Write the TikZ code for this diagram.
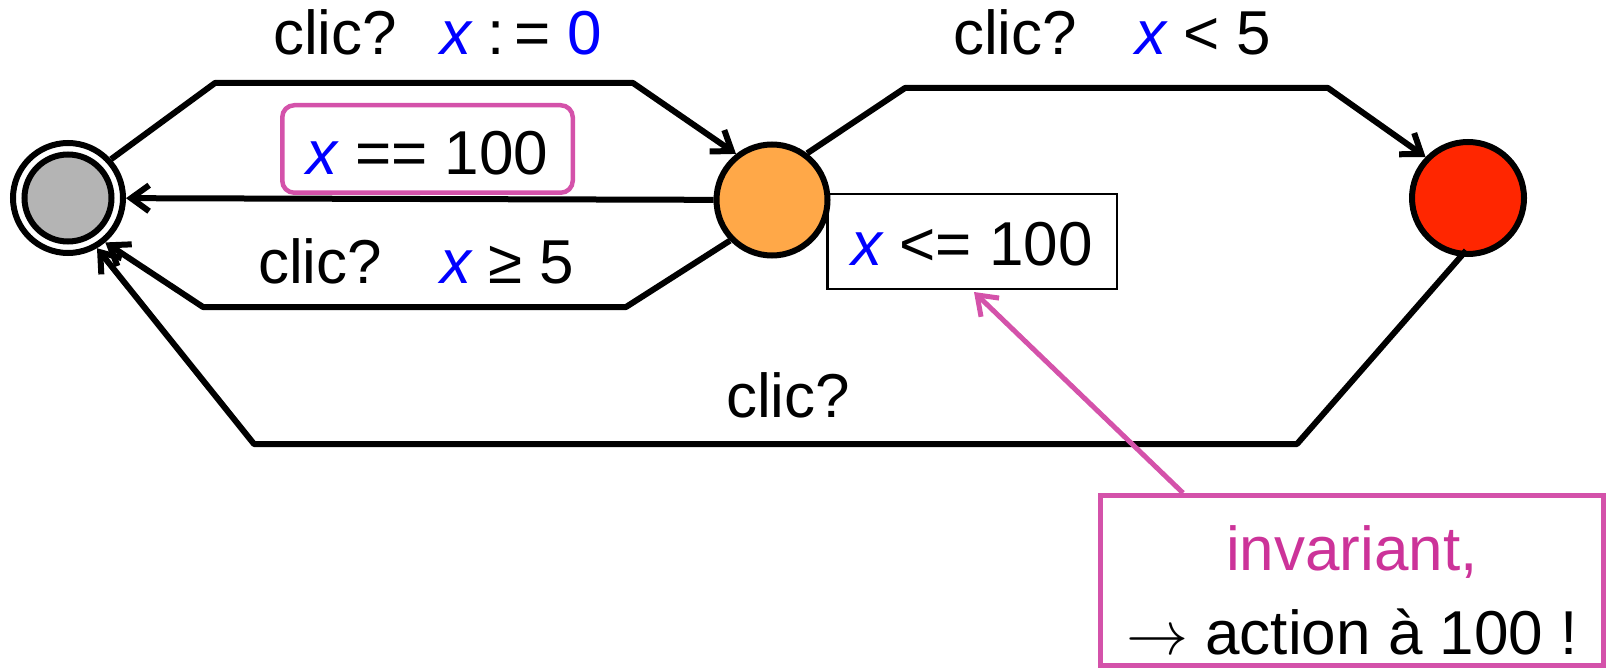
\RequirePackage{fix-cm}
\documentclass[tikz,border=0pt]{standalone}
\usepackage{fontspec}
\setmainfont{Liberation Sans}
\usetikzlibrary{arrows.meta}

\definecolor{stateorange}{RGB}{255,168,72}
\definecolor{statered}{RGB}{255,38,0}
\definecolor{stategray}{RGB}{180,180,180}
\definecolor{clockblue}{RGB}{0,0,255}
\definecolor{pinkedge}{RGB}{212,82,170}
\definecolor{pinktext}{RGB}{204,51,153}

\newcommand\clk[1]{\textcolor{clockblue}{\itshape #1}}

\tikzset{
  state/.style={circle, draw, line width=6pt, inner sep=0pt},
  trans/.style={line width=6pt, line join=round,
    -{Straight Barb[length=18pt,width=26pt]}},
  lbl/.style={inner sep=0pt, anchor=base west},
  guardbox/.style={draw=pinkedge, line width=4.5pt, rounded corners=12pt,
    inner sep=0pt, text height=52pt, text depth=0pt},
  invbox/.style={draw, line width=2.5pt, fill=white, inner sep=0pt,
    text height=47pt, text depth=0pt},
  notebox/.style={draw=pinkedge, line width=5pt, inner sep=0pt, align=center,
    text height=147pt, text depth=0pt},
  pointer/.style={draw=pinkedge, line width=5pt,
    -{Straight Barb[length=18pt,width=26pt]}}
}

\begin{document}
\begin{tikzpicture}[x=1pt, y=-1pt, font=\fontsize{62}{84}\selectfont]
\useasboundingbox (0,0) rectangle (1608,671);

% invariant of the waiting location (partly hidden under the location)
\node[invbox, minimum width=289.5pt, minimum height=94.5pt] (inv)
  at (972,241.5) {\clk{x} <= 100};

% locations
\node[state, minimum size=110pt] (init) at (68,198) {};
\node[state, fill=stategray, minimum size=87pt] (initcore) at (init) {};
\node[state, fill=stateorange, minimum size=111pt] (wait) at (772,200) {};
\node[state, fill=statered, minimum size=112pt] (err) at (1468,198) {};

% bend points of the transitions
\coordinate (a1) at (215,83);   \coordinate (a2) at (633,83);
\coordinate (b1) at (626,307);  \coordinate (b2) at (203,307);
\coordinate (c1) at (905,88);   \coordinate (c2) at (1328,88);
\coordinate (d1) at (1297,444); \coordinate (d2) at (254,444);

% transitions
\draw[trans] (init.42) -- (a1) -- (a2) -- (wait.128);
\draw[trans] (wait) -- (init);
\draw[trans] (wait.224) -- (b1) -- (b2) -- (init.310);
\draw[trans] (wait.53) -- (c1) -- (c2) -- (err.136);
\draw[trans, shorten <=-8pt] (err.263) -- (d1) -- (d2) -- (init.300);

% guard on the timeout transition
\node[guardbox, minimum width=290.5pt, minimum height=87.5pt] (guard)
  at (427.5,149) {\clk{x} == 100};

% transition labels
\node[lbl] (t1) at (273,55) {clic?};
\node[lbl] (g1) at (440,55)
  {\clk{x}\hspace{16.3pt}:\hspace{9.5pt}=\hspace{17.2pt}\textcolor{clockblue}{0}};
\node[lbl] (t2) at (953,55) {clic?};
\node[lbl] (g2) at (1135,55) {\clk{x} < 5};
\node[lbl] (t3) at (258,283) {clic?};
\node[lbl] (g3) at (440,283) {\clk{x} ≥ 5};
\node[lbl] (t4) at (726,417) {clic?};

% explanatory note
\node[notebox, minimum width=503pt, minimum height=170pt] (note)
  at (1352,580.5) {\textcolor{pinktext}{invariant,}\\ $\rightarrow$ action à 100 !};
\path (note.north west) ++(85,0) coordinate (ptail);
\draw[pointer] (ptail) -- ([xshift=2pt,yshift=-2pt]inv.south);
\end{tikzpicture}
\end{document}
